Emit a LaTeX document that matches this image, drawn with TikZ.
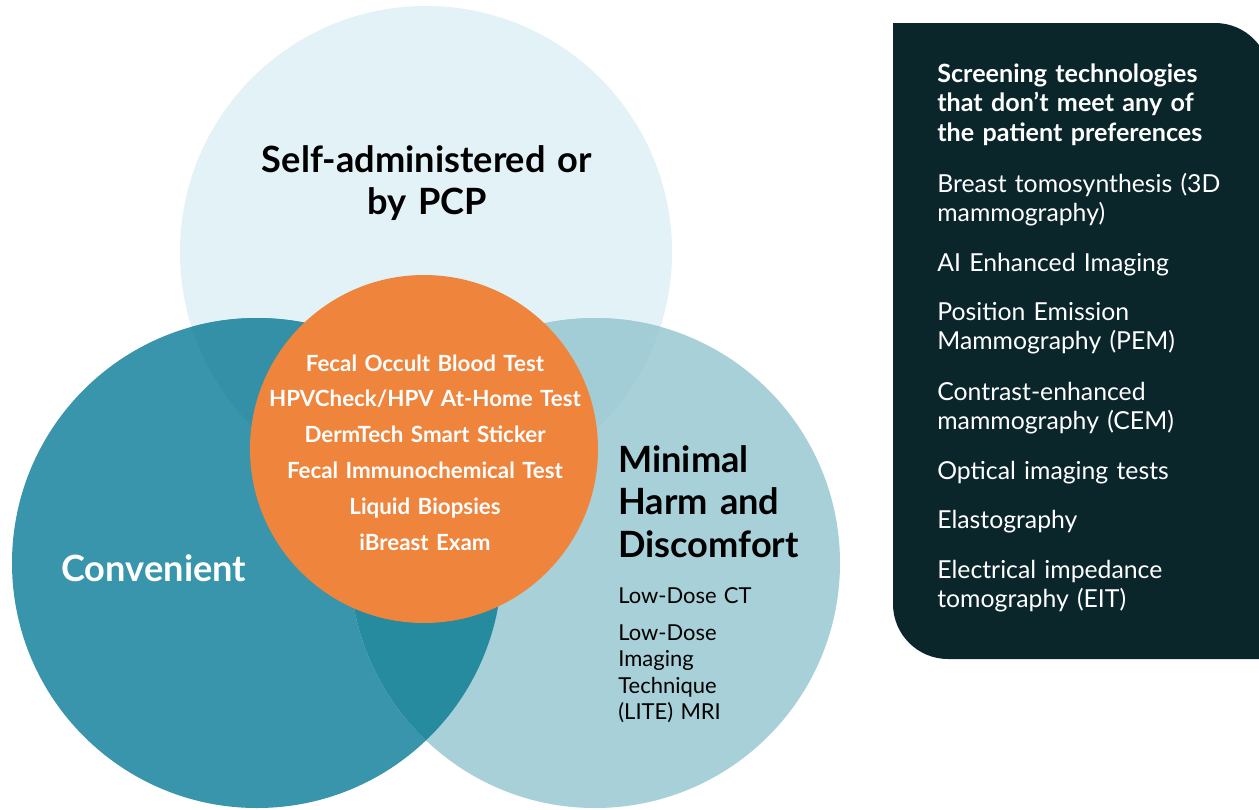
\documentclass[tikz,border=0pt]{standalone}
\usepackage{fontspec}
\setmainfont{Lato}
\definecolor{topblue}{HTML}{E3F2F7}
\definecolor{convteal}{HTML}{3895AB}
\definecolor{harmblue}{HTML}{A7D0D8}
\definecolor{convtop}{HTML}{3390A6}
\definecolor{harmtop}{HTML}{A3CDD6}
\definecolor{convharm}{HTML}{268B9F}
\definecolor{allorange}{HTML}{EF843D}
\definecolor{panelgreen}{HTML}{0B262B}
\tikzset{
  headtext/.style={font=\bfseries\fontsize{20.6}{24.2}\selectfont, inner sep=0pt, text width=8cm},
  listtext/.style={font=\bfseries\fontsize{12.7}{20.4}\selectfont, text=white, inner sep=0pt, text width=7.5cm, align=center, anchor=base},
  harmtext/.style={font=\fontsize{12.5}{15.1}\selectfont, inner sep=0pt, text width=4cm, align=left, anchor=base west},
  paneltext/.style={font=\fontsize{14.1}{17.07}\selectfont, text=white, inner sep=0pt, text width=7cm, align=left, anchor=base west}
}
\begin{document}
\begin{tikzpicture}[x=0.02cm,y=-0.02cm]
\clip (0,0) rectangle (1259,809);
\fill[white] (0,0) rectangle (1259,809);

% the three circles
\fill[topblue] (426,252) circle (246);
\fill[convteal] (257,563) circle (245);
\fill[harmblue] (595,563) circle (245);
\begin{scope}
  \clip (257,563) circle (245);
  \fill[convtop] (426,252) circle (246);
\end{scope}
\begin{scope}
  \clip (595,563) circle (245);
  \fill[harmtop] (426,252) circle (246);
\end{scope}
\begin{scope}
  \clip (257,563) circle (245);
  \fill[convharm] (595,563) circle (245);
\end{scope}
\fill[allorange] (424,449) circle (174);

% labels
\node[headtext, align=center, anchor=base] (selfpcp) at (427,172) {Self-administered or\\by PCP};
\node[headtext, text=white, align=left, anchor=base west, text width=5cm] (convenient) at (61,581) {Convenient};
\node[headtext, align=left, anchor=base west, text width=5cm] (minimal) at (618,472) {Minimal\\Harm and\\Discomfort};
\node[harmtext] (lowct) at (618,603) {Low-Dose CT};
\node[harmtext] (lite) at (618,640) {Low-Dose\\Imaging\\Technique\\(LITE) MRI};
\node[listtext] (homelist) at (425,371) {Fecal Occult Blood Test\\HPVCheck/HPV At-Home Test\\DermTech Smart Sticker\\Fecal Immunochemical Test\\Liquid Biopsies\\iBreast Exam};

% side panel
\fill[panelgreen] (893,23) -- (1215,23) arc[start angle=-90, end angle=0, radius=55]
  -- (1270,659) -- (948,659) arc[start angle=90, end angle=180, radius=55] -- cycle;
\node[paneltext, font=\bfseries\fontsize{14.3}{17.07}\selectfont] (nopref) at (937,82)
  {Screening technologies\\that don’t meet any of\\the patient preferences};
\foreach \y/\txt [count=\n] in {192/Breast tomosynthesis (3D\\mammography),
    271/AI Enhanced Imaging, 320/Position Emission\\Mammography (PEM),
    400/Contrast-enhanced\\mammography (CEM), 479/Optical imaging tests,
    528/Elastography, 578/Electrical impedance\\tomography (EIT)}
  \node[paneltext] (tech\n) at (937,\y) {\txt};
\end{tikzpicture}
\end{document}
